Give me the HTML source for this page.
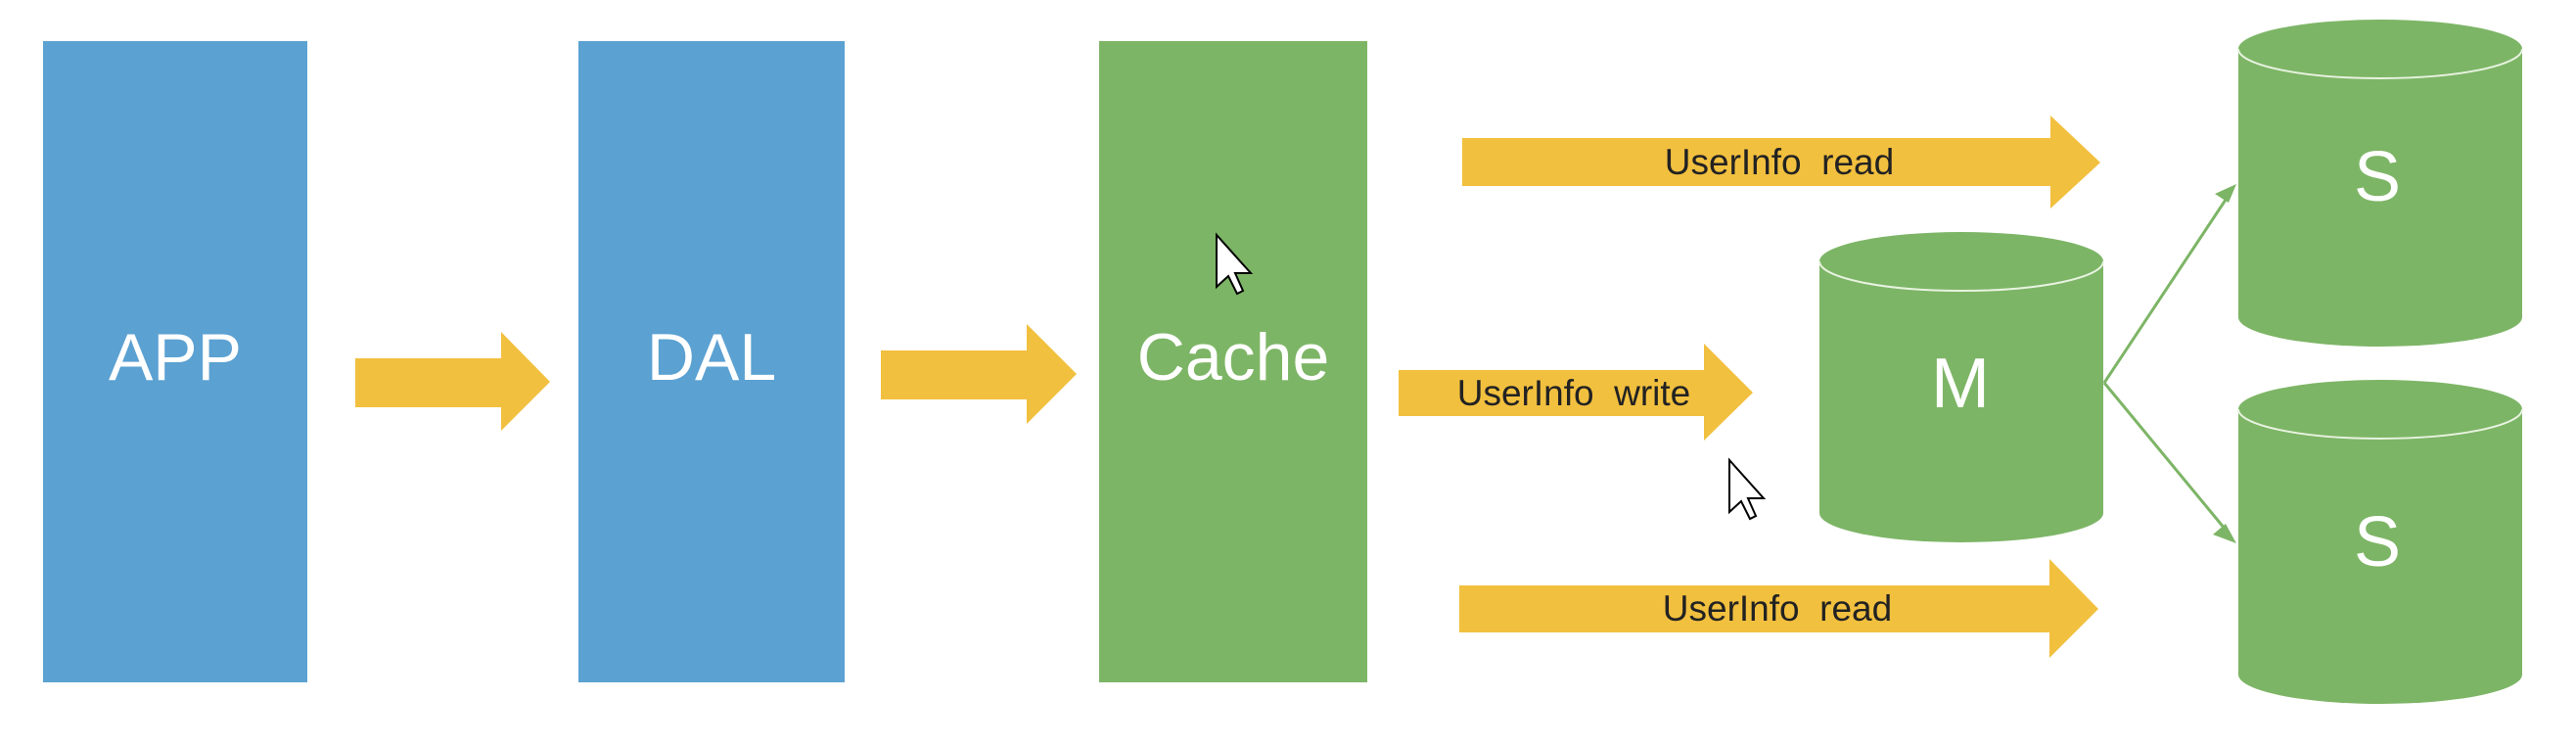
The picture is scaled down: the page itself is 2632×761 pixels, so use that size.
<!DOCTYPE html>
<html><head><style>body{margin:0;background:#fff}</style></head><body>
<svg width="2632" height="756" viewBox="0 0 2632 756" xmlns="http://www.w3.org/2000/svg" font-family="Liberation Sans, DejaVu Sans, sans-serif">
<rect x="44" y="42" width="270" height="655" fill="#5BA1D2"/>
<rect x="591" y="42" width="272" height="655" fill="#5BA1D2"/>
<rect x="1123" y="42" width="274" height="655" fill="#7DB566"/>
<g fill="#fff" font-size="68" text-anchor="middle">
<text x="179" y="388">APP</text>
<text x="727" y="388">DAL</text>
<text x="1260" y="388">Cache</text>
</g>
<g fill="#F2C03F">
<polygon points="363,366 512,366 512,339 562,390 512,440 512,416 363,416"/>
<polygon points="900,358 1049,358 1049,331 1100,382 1049,433 1049,408 900,408"/>
<polygon points="1494,141 2095,141 2095,118 2146,166 2095,213 2095,190 1494,190"/>
<polygon points="1429,378 1741,378 1741,351 1791,401 1741,450 1741,425 1429,425"/>
<polygon points="1491,598 2094,598 2094,571 2144,622 2094,672 2094,646 1491,646"/>
</g>
<g fill="#222" font-size="37" text-anchor="middle">
<text x="1818" y="178">UserInfo&#160; read</text>
<text x="1608" y="414">UserInfo&#160; write</text>
<text x="1816" y="634">UserInfo&#160; read</text>
</g>
<g fill="#7DB566" stroke="none">
<path d="M1859,267 L1859,524 A145,30 0 0 0 2149,524 L2149,267 A145,30 0 0 0 1859,267Z"/>
<path d="M2287,50 L2287,324 A145,30 0 0 0 2577,324 L2577,50 A145,30 0 0 0 2287,50Z"/>
<path d="M2287,418 L2287,689 A145,30 0 0 0 2577,689 L2577,418 A145,30 0 0 0 2287,418Z"/>
</g>
<g fill="none" stroke="#e8f3e0" stroke-width="2">
<path d="M1859,267 A145,30 0 0 0 2149,267"/>
<path d="M2287,50 A145,30 0 0 0 2577,50"/>
<path d="M2287,418 A145,30 0 0 0 2577,418"/>
</g>
<g fill="#fff" font-size="72" text-anchor="middle">
<text x="2003" y="416">M</text>
<text x="2429" y="205">S</text>
<text x="2429" y="578">S</text>
</g>
<g stroke="#7DB566" stroke-width="3" fill="#7DB566">
<line x1="2150" y1="391" x2="2278" y2="198"/>
<line x1="2150" y1="391" x2="2278" y2="546"/>
<polygon points="2285,188 2263,198 2277,207" stroke="none"/>
<polygon points="2285,555 2261,546 2274,535" stroke="none"/>
</g>
<g stroke="#000" stroke-width="2" fill="#fff">
<path d="M1243,240 L1243,293 L1255,282 L1264,300 L1270,297 L1262,279 L1278,279 Z"/>
<path d="M1767,470 L1767,523 L1779,512 L1788,530 L1794,527 L1786,509 L1802,509 Z"/>
</g>
</svg>
</body></html>
